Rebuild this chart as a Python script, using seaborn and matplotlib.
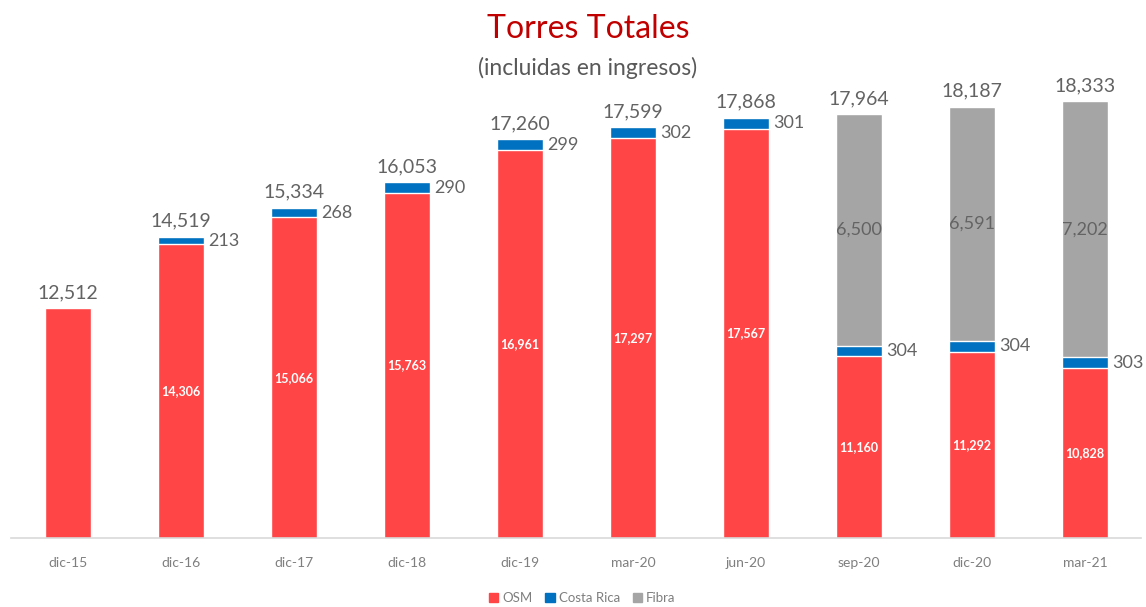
import matplotlib
matplotlib.use("Agg")
import matplotlib.pyplot as plt
import seaborn as sns
import pandas as pd
import numpy as np
from matplotlib.patches import Patch

categories = ["dic-15", "dic-16", "dic-17", "dic-18", "dic-19", "mar-20", "jun-20", "sep-20", "dic-20", "mar-21"]
osm = [12512, 14306, 15066, 15763, 16961, 17297, 17567, 11160, 11292, 10828]
costa_rica = [0, 213, 268, 290, 299, 302, 301, 304, 304, 303]
fibra = [0, 0, 0, 0, 0, 0, 0, 6500, 6591, 7202]

RED = "#FF4545"
BLUE = "#0070C0"
GRAY = "#A5A5A5"
LABEL = "#636363"

sns.set_theme(style="white")
plt.rcParams["font.family"] = ["Lato", "DejaVu Sans"]

df = pd.DataFrame({"cat": categories, "osm": osm, "cr": costa_rica, "fibra": fibra})
df["osm_cr"] = df["osm"] + df["cr"]
df["total"] = df["osm_cr"] + df["fibra"]

fig = plt.figure(figsize=(11.46, 6.07), dpi=100)
ax = fig.add_axes([0.01, 0.1137, 0.986, 0.817])

w = 0.41
sns.barplot(data=df, x="cat", y="total", color=GRAY, width=w, saturation=1, ax=ax, order=categories)
sns.barplot(data=df, x="cat", y="osm_cr", color=BLUE, width=w, saturation=1, ax=ax, order=categories)
sns.barplot(data=df, x="cat", y="osm", color=RED, width=w, saturation=1, ax=ax, order=categories)

ax.set_ylim(6050, 20000)
ax.set_xlim(-0.5, len(categories) - 0.5)
ax.set_xlabel("")
ax.set_ylabel("")
ax.set_yticks([])
for s in ["top", "left", "right"]:
    ax.spines[s].set_visible(False)
ax.spines["bottom"].set_color("#D9D9D9")
ax.spines["bottom"].set_linewidth(1.2)
ax.tick_params(axis="x", length=0, pad=14, labelsize=10, labelcolor="#7F7F7F")

for i, row in df.iterrows():
    ax.text(i, row["total"] + 200, f"{row['total']:,}", ha="center", va="bottom",
            fontsize=14, color=LABEL)
    if row["cr"] > 0:
        ax.text(i + w / 2 + 0.035, row["osm"] + row["cr"] / 2, f"{row['cr']:,}", ha="left",
                va="center", fontsize=13, color=LABEL)
        ax.text(i, 6050 + (row["osm"] - 6050) / 2, f"{row['osm']:,}", ha="center", va="center",
                fontsize=9, color="white", fontweight="bold")
    if row["fibra"] > 0:
        ax.text(i, row["osm_cr"] + row["fibra"] / 2, f"{row['fibra']:,}", ha="center", va="center",
                fontsize=13, color=LABEL)

fig.text(0.513, 0.953, "Torres Totales", ha="center", va="center", fontsize=23, color="#C00000")
fig.text(0.513, 0.888, "(incluidas en ingresos)", ha="center", va="center", fontsize=16.5, color="#595959")

handles = [Patch(color=RED, label="OSM"), Patch(color=BLUE, label="Costa Rica"), Patch(color=GRAY, label="Fibra")]
fig.legend(handles=handles, loc="center", bbox_to_anchor=(0.508, 0.015), ncol=3, frameon=False,
           fontsize=9.5, labelcolor="#7F7F7F", handlelength=0.7, handleheight=0.7,
           handletextpad=0.3, columnspacing=1.0)

fig.savefig("out.png", dpi=100)
